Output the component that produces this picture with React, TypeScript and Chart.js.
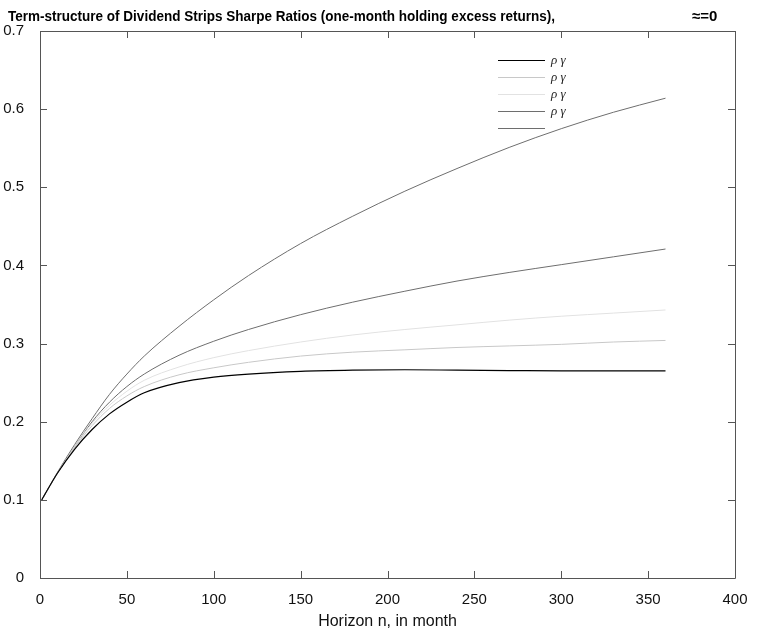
import React, { useEffect, useRef } from "react";
import { Chart, registerables } from "chart.js";

Chart.register(...registerables);

const horizons = [1, 10, 20, 30, 40, 50, 60, 80, 100, 120, 150, 180, 210, 240, 270, 300, 330, 360];

const series1 = [0.1, 0.134, 0.165, 0.19, 0.21, 0.225, 0.237, 0.25, 0.257, 0.261, 0.2645, 0.266, 0.2665, 0.266, 0.2655, 0.265, 0.265, 0.265];
const series2 = [0.1, 0.134, 0.167, 0.195, 0.217, 0.233, 0.245, 0.26, 0.269, 0.276, 0.284, 0.289, 0.292, 0.295, 0.297, 0.299, 0.302, 0.304];
const series3 = [0.1, 0.134, 0.168, 0.198, 0.221, 0.239, 0.253, 0.27, 0.282, 0.291, 0.302, 0.311, 0.318, 0.324, 0.33, 0.335, 0.339, 0.343];
const series4 = [0.1, 0.134, 0.168, 0.2, 0.225, 0.245, 0.261, 0.285, 0.303, 0.318, 0.337, 0.353, 0.367, 0.38, 0.391, 0.401, 0.411, 0.421];
const series5 = [0.1, 0.135, 0.171, 0.204, 0.235, 0.261, 0.284, 0.322, 0.356, 0.387, 0.428, 0.463, 0.495, 0.524, 0.551, 0.575, 0.596, 0.614];

const seriesLabels = ["ρ γ", "ρ γ", "ρ γ", "ρ γ", ""];
const seriesColors = ["#000000", "#c8c8c8", "#e2e2e2", "#6e6e6e", "#6e6e6e"];
const seriesWidths = [1.2, 1, 1, 1, 1];

const titleText = "Term-structure of Dividend Strips Sharpe Ratios (one-month holding excess returns),";
const titleTail = "≈=0";
const xAxisTitle = "Horizon n, in month";

const xTicks = [0, 50, 100, 150, 200, 250, 300, 350, 400];
const yTicks = [0, 0.1, 0.2, 0.3, 0.4, 0.5, 0.6, 0.7];

const FONT = "'Liberation Sans', Arial, Helvetica, sans-serif";

const boxPlugin = {
  id: "boxAndLegend",
  afterDraw(chart: any) {
    const { ctx, chartArea } = chart;
    const xs = chart.scales.x;
    const ys = chart.scales.y;
    ctx.save();
    // box
    ctx.strokeStyle = "#555";
    ctx.lineWidth = 1;
    ctx.beginPath();
    ctx.rect(Math.round(chartArea.left) + 0.5, Math.round(chartArea.top) + 0.5,
      Math.round(chartArea.right - chartArea.left), Math.round(chartArea.bottom - chartArea.top));
    ctx.stroke();
    // inward ticks
    const tl = 7;
    ctx.beginPath();
    xTicks.forEach((v) => {
      const px = Math.round(xs.getPixelForValue(v)) + 0.5;
      ctx.moveTo(px, chartArea.bottom);
      ctx.lineTo(px, chartArea.bottom - tl);
      ctx.moveTo(px, chartArea.top);
      ctx.lineTo(px, chartArea.top + tl);
    });
    yTicks.forEach((v) => {
      const py = Math.round(ys.getPixelForValue(v)) + 0.5;
      ctx.moveTo(chartArea.left, py);
      ctx.lineTo(chartArea.left + tl, py);
      ctx.moveTo(chartArea.right, py);
      ctx.lineTo(chartArea.right - tl, py);
    });
    ctx.stroke();

    // title
    ctx.fillStyle = "#000";
    ctx.font = `bold 15px ${FONT}`;
    ctx.textBaseline = "alphabetic";
    ctx.textAlign = "left";
    const w = ctx.measureText(titleText).width;
    const target = 547;
    ctx.save();
    ctx.translate(8, 21);
    ctx.scale(Math.min(1, target / w), 1);
    ctx.fillText(titleText, 0, 0);
    ctx.restore();
    ctx.fillText(titleTail, 692, 21);

    // legend
    const lx0 = 498, lx1 = 545, ly0 = 60, step = 17;
    chart.data.datasets.forEach((ds: any, i: number) => {
      const y = ly0 + i * step + 0.5;
      ctx.strokeStyle = ds.borderColor;
      ctx.lineWidth = ds.borderWidth;
      ctx.beginPath();
      ctx.moveTo(lx0, y);
      ctx.lineTo(lx1, y);
      ctx.stroke();
      if (ds.label) {
        ctx.fillStyle = "#222";
        ctx.font = "italic 13px 'Liberation Serif', 'Times New Roman', serif";
        ctx.textBaseline = "middle";
        ctx.fillText(ds.label, lx1 + 6, y);
      }
    });
    ctx.restore();
  },
};

export default function App() {
  const ref = useRef<HTMLCanvasElement>(null);
  useEffect(() => {
    const canvas = ref.current!;
    const mk = (vals: number[]) => horizons.map((h, i) => ({ x: h, y: vals[i] }));
    const all = [series1, series2, series3, series4, series5];
    const chart = new Chart(canvas, {
      type: "line",
      data: {
        datasets: all.map((s, i) => ({
          label: seriesLabels[i],
          data: mk(s),
          borderColor: seriesColors[i],
          backgroundColor: seriesColors[i],
          borderWidth: seriesWidths[i],
          pointRadius: 0,
          cubicInterpolationMode: "monotone" as const,
          fill: false,
        })),
      },
      options: {
        animation: false,
        responsive: false,
        maintainAspectRatio: false,
        layout: { padding: { left: 0, top: 31, right: 31, bottom: 0 } },
        plugins: { legend: { display: false }, title: { display: false }, tooltip: { enabled: false } },
        scales: {
          x: {
            type: "linear",
            min: 0,
            max: 400,
            afterBuildTicks: (s: any) => { s.ticks = xTicks.map((v) => ({ value: v })); },
            grid: { display: false },
            border: { display: false },
            ticks: { color: "#111", font: { size: 15, family: FONT }, padding: 5, maxRotation: 0, autoSkip: false },
            title: { display: true, text: xAxisTitle, color: "#111", font: { size: 16, family: FONT }, padding: { top: 2, bottom: 1 } },
            afterFit: (s: any) => { s.height = 54; },
          },
          y: {
            type: "linear",
            min: 0,
            max: 0.7,
            afterBuildTicks: (s: any) => { s.ticks = yTicks.map((v) => ({ value: v })); },
            grid: { display: false },
            border: { display: false },
            ticks: {
              color: "#111",
              font: { size: 15, family: FONT },
              padding: 8,
              callback: (v: any) => (Number(v) === 0 ? "0" : Number(v).toFixed(1)),
            },
            afterFit: (s: any) => { s.width = 40; },
          },
        },
      },
      plugins: [boxPlugin],
    });
    return () => chart.destroy();
  }, []);
  return (
    <div style={{ position: "fixed", left: 0, top: 0, width: 766, height: 632, background: "#fff" }}>
      <canvas ref={ref} width={766} height={632} style={{ width: 766, height: 632, display: "block" }} />
    </div>
  );
}
